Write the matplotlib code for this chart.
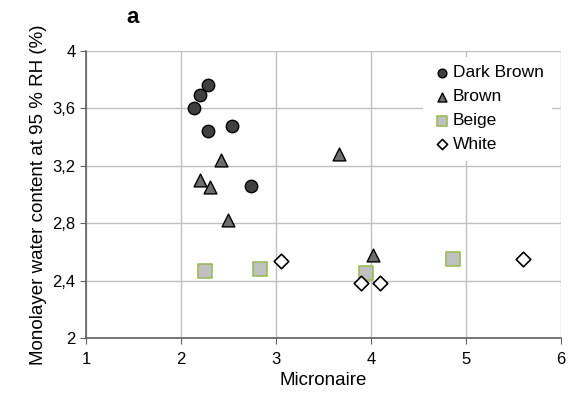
import matplotlib.pyplot as plt
from matplotlib.ticker import FuncFormatter

# Micronaire vs monolayer water content, per fibre colour
dark_x = [2.29, 2.20, 2.14, 2.29, 2.54, 2.74]
dark_y = [3.76, 3.69, 3.60, 3.44, 3.48, 3.06]
brown_x = [2.42, 2.20, 2.31, 2.50, 3.66, 4.02]
brown_y = [3.24, 3.10, 3.05, 2.82, 3.28, 2.58]
beige_x = [2.25, 2.83, 3.95, 4.86]
beige_y = [2.47, 2.48, 2.45, 2.55]
white_x = [3.05, 3.90, 4.10, 5.60]
white_y = [2.54, 2.38, 2.38, 2.55]

plt.rcParams['font.family'] = ['Liberation Sans', 'DejaVu Sans']
fig = plt.figure(figsize=(5.69, 3.94), dpi=100)
ax = fig.add_axes([0.151, 0.142, 0.835, 0.729])

ax.scatter(dark_x, dark_y, s=80, marker='o', c='#404040', edgecolors='black', linewidths=1, label='Dark Brown', zorder=3)
ax.scatter(brown_x, brown_y, s=85, marker='^', c='#6e6e6e', edgecolors='black', linewidths=1, label='Brown', zorder=3)
ax.scatter(beige_x, beige_y, s=90, marker='s', c='#c0c0c0', edgecolors='#9bbb59', linewidths=1.2, label='Beige', zorder=3)
ax.scatter(white_x, white_y, s=55, marker='D', c='white', edgecolors='black', linewidths=1.2, label='White', zorder=3)

ax.set_xlim(1, 6)
ax.set_ylim(2, 4)
ax.set_xticks([1, 2, 3, 4, 5, 6])
ax.set_yticks([2, 2.4, 2.8, 3.2, 3.6, 4])
ax.yaxis.set_major_formatter(FuncFormatter(lambda v, p: ('%g' % round(v, 1)).replace('.', ',')))
ax.grid(True, color='#c0c0c0', linewidth=1)
ax.set_axisbelow(True)
for s in ['top', 'right']:
    ax.spines[s].set_visible(False)
for s in ['left', 'bottom']:
    ax.spines[s].set_color('#606060')
    ax.spines[s].set_linewidth(1.2)
ax.tick_params(axis='both', colors='#606060', labelcolor='black', labelsize=12, length=4)
ax.tick_params(axis='x', pad=6)

ax.set_xlabel('Micronaire', fontsize=13.5)
ax.set_ylabel('Monolayer water content at 95 % RH (%)', fontsize=13.5)

leg = ax.legend(loc='upper right', bbox_to_anchor=(1.0, 1.01), frameon=True, fontsize=12.5,
                handletextpad=0.0, handlelength=1.2, labelspacing=0.5, borderpad=0.5, markerscale=0.7)
leg.get_frame().set_edgecolor('none')
leg.get_frame().set_facecolor('white')
leg.get_frame().set_alpha(1)

fig.text(0.222, 0.955, 'a', fontsize=16, fontweight='bold', ha='left', va='center')

plt.savefig('out.png', dpi=100)
